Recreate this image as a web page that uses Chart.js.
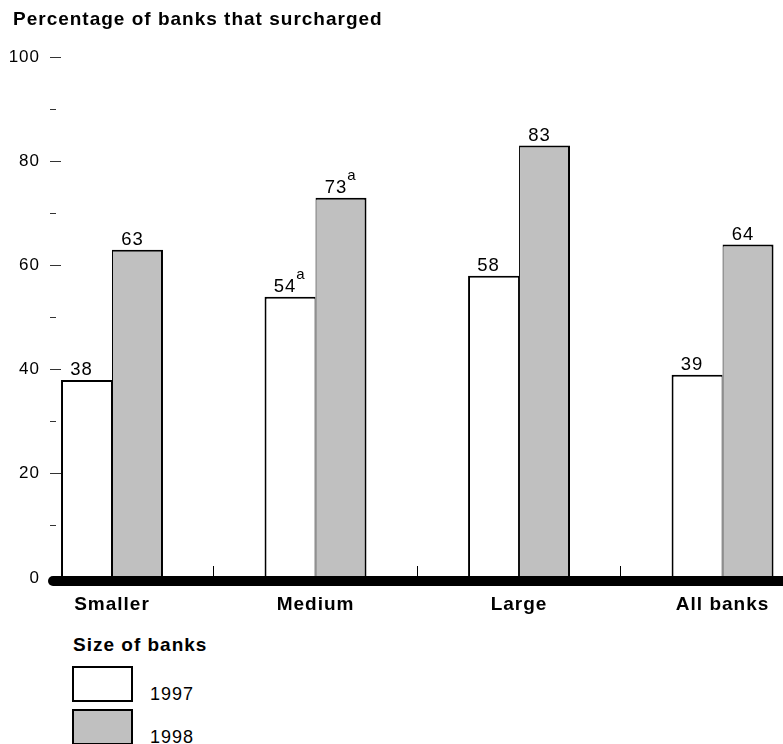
<!DOCTYPE html>
<html><head><meta charset="utf-8">
<script src="https://cdn.jsdelivr.net/npm/chart.js@4.4.1/dist/chart.umd.min.js"></script>
<style>
html,body{margin:0;padding:0;background:#fff;overflow:hidden;width:783px;height:744px;}
#wrap{position:absolute;left:0;top:0;width:783px;height:620px;}
.lg{position:absolute;font-family:"Liberation Sans",Arial,sans-serif;color:#000;white-space:nowrap;letter-spacing:1px;}
.box{position:absolute;box-sizing:border-box;border:2px solid #000;}
</style></head><body>
<div id="wrap"><canvas id="c"></canvas></div>
<div id="legend"></div>
<script>
const titleText = 'Percentage of banks that surcharged';
const categories = ['Smaller', 'Medium', 'Large', 'All banks'];
const values1997 = [38, 54, 58, 39];
const values1998 = [63, 73, 83, 64];
const notes1997 = ['', 'a', '', ''];
const notes1998 = ['', 'a', '', ''];
const seriesNames = ['1997', '1998'];
const seriesColors = ['#ffffff', '#c0c0c0'];
const legendTitle = 'Size of banks';
const yMin = 0, yMax = 100, yStep = 10, yLabelStep = 20;

const FONT = '"Liberation Sans", Arial, sans-serif';
Chart.defaults.font.family = FONT;
Chart.defaults.color = '#000';

const allValues = [values1997, values1998];
const allNotes = [notes1997, notes1998];

const spacingPlugin = {
  id: 'spacing',
  beforeDraw(chart) {
    chart.ctx.letterSpacing = '1px';
    if (chart.titleBlock) { chart.titleBlock.left = 13; }
  }
};

const decoPlugin = {
  id: 'deco',
  afterDatasetsDraw(chart) {
    const ctx = chart.ctx;
    const ys = chart.scales.y;
    const y0 = ys.getPixelForValue(0) + 3;
    ctx.save();
    ctx.strokeStyle = '#000';
    ctx.lineWidth = 10;
    ctx.lineCap = 'round';
    ctx.beginPath();
    ctx.moveTo(chart.chartArea.left - 8, y0);
    ctx.lineTo(chart.width + 10, y0);
    ctx.stroke();
    ctx.fillStyle = '#000';
    ctx.letterSpacing = '1px';
    allValues.forEach((vals, d) => {
      const meta = chart.getDatasetMeta(d);
      meta.data.forEach((bar, i) => {
        const num = String(vals[i]);
        const cx = bar.x - 5;
        const by = bar.y - 5;
        ctx.font = '18.5px ' + FONT;
        ctx.textAlign = 'center';
        ctx.textBaseline = 'alphabetic';
        ctx.fillText(num, cx, by);
        const note = allNotes[d][i];
        if (note) {
          const w = ctx.measureText(num).width;
          ctx.font = '15px ' + FONT;
          ctx.textAlign = 'left';
          ctx.fillText(note, cx + w / 2, by - 13);
        }
      });
    });
    ctx.restore();
  }
};

new Chart(document.getElementById('c'), {
  type: 'bar',
  data: {
    datasets: [
      {
        label: seriesNames[0],
        data: values1997.map((v, i) => ({ x: i, y: v })),
        backgroundColor: seriesColors[0],
        borderColor: '#000',
        borderWidth: { top: 2, left: 2, right: 1, bottom: 0 },
        categoryPercentage: 0.501,
        barPercentage: 1.0
      },
      {
        label: seriesNames[1],
        data: values1998.map((v, i) => ({ x: i, y: v })),
        backgroundColor: seriesColors[1],
        borderColor: '#000',
        borderWidth: { top: 2, left: 1, right: 2, bottom: 0 },
        categoryPercentage: 0.501,
        barPercentage: 1.0
      }
    ]
  },
  options: {
    responsive: true,
    maintainAspectRatio: false,
    animation: false,
    devicePixelRatio: 1,
    layout: { padding: { left: 0, right: 0, top: 0, bottom: 0 } },
    plugins: {
      legend: { display: false },
      tooltip: { enabled: false },
      title: {
        display: true,
        text: titleText,
        align: 'start',
        color: '#000',
        font: { size: 19, weight: 'bold', lineHeight: '22px' },
        padding: { top: 9, bottom: 26 }
      }
    },
    scales: {
      x: {
        type: 'linear',
        offset: false,
        min: -0.2506,
        max: 3.297,
        afterBuildTicks: (s) => { s.ticks = categories.map((c, i) => ({ value: i })); },
        afterFit: (s) => { s.height = 42; s.paddingLeft = 0; s.paddingRight = 0; },
        ticks: {
          autoSkip: false, maxRotation: 0, padding: 27, color: '#000',
          font: { size: 19, weight: 'bold' },
          callback: (v) => categories[v] !== undefined ? categories[v] : ''
        },
        grid: { offset: true, drawOnChartArea: false, tickLength: -12, tickColor: '#000', tickWidth: 1 },
        border: { display: false }
      },
      y: {
        min: yMin, max: yMax,
        afterFit: (s) => { s.width = 61; s.paddingTop = 0; s.paddingBottom = 0; },
        ticks: {
          stepSize: yStep, padding: 10, color: '#000', font: { size: 17 },
          callback: (v) => (v % yLabelStep === 0 ? String(v) : '')
        },
        grid: {
          drawOnChartArea: false, tickLength: 11, tickColor: '#333', tickWidth: 1,
          tickBorderDash: (ctx) => (ctx.tick && ctx.tick.value % yLabelStep !== 0 ? [6, 50] : [])
        },
        border: { display: false }
      }
    }
  },
  plugins: [spacingPlugin, decoPlugin]
});

// HTML legend
const lg = document.getElementById('legend');
const t = document.createElement('div');
t.className = 'lg';
t.style.cssText = 'left:73px;top:635px;font-size:19px;line-height:19px;font-weight:bold;';
t.textContent = legendTitle;
lg.appendChild(t);
seriesNames.forEach((name, k) => {
  const b = document.createElement('div');
  b.className = 'box';
  b.style.cssText = 'left:72px;top:' + (666 + k * 43) + 'px;width:61px;height:36px;background:' + seriesColors[k] + ';';
  lg.appendChild(b);
  const l = document.createElement('div');
  l.className = 'lg';
  l.style.cssText = 'left:150px;top:' + (685 + k * 43) + 'px;font-size:18px;line-height:18px;';
  l.textContent = name;
  lg.appendChild(l);
});
</script>
</body></html>
